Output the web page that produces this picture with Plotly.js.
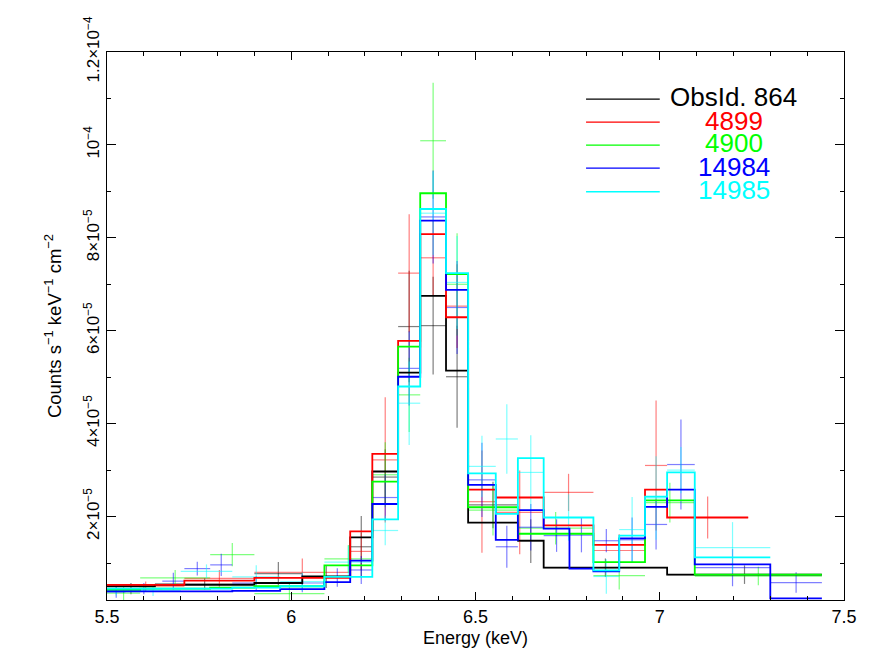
<!DOCTYPE html>
<html>
<head>
<meta charset="utf-8">
<script src="https://cdn.plot.ly/plotly-3.0.1.min.js"></script>
<style>html,body{margin:0;padding:0;background:#fff}#chart{width:873px;height:648px}</style>
</head>
<body>
<div id="chart"></div>
<script>
// Values in units of 1e-5 counts s^-1 keV^-1 cm^-2
const SCALE = 1e-5;

// ObsId 864 (black)
const edges864 = [5.50, 5.63, 5.90, 6.03, 6.16, 6.22, 6.29, 6.35, 6.42, 6.48, 6.615, 6.685, 7.02, 7.44];
const model864 = [0.50, 0.53, 0.57, 0.71, 1.55, 2.97, 5.10, 6.75, 5.14, 1.87, 1.48, 0.90, 0.75];
const data864  = [0.45, 0.55, 0.77, 0.71, 1.35, 2.85, 6.09, 6.11, 5.01, 2.25, 1.47, 0.90, 0.75];
const err864   = [0.12, 0.12, 0.25, 0.25, 0.66, 0.60, 1.20, 1.05, 1.10, 0.50, 0.47, 0.20, 0.20];

// 4899 (red)
const edges4899 = [5.50, 5.71, 5.90, 6.16, 6.22, 6.29, 6.35, 6.42, 6.48, 6.555, 6.685, 6.82, 6.96, 7.02, 7.24];
const model4899 = [0.53, 0.62, 0.68, 1.68, 3.35, 5.78, 8.08, 6.29, 2.58, 2.41, 1.81, 1.39, 2.58, 1.98];
const data4899  = [0.50, 0.67, 0.80, 1.25, 3.22, 7.24, 7.57, 6.53, 2.32, 2.09, 2.52, 1.27, 3.10, 1.98];
const err4899   = [0.10, 0.18, 0.30, 0.40, 1.35, 1.27, 0.80, 0.90, 1.10, 0.90, 0.40, 0.35, 1.40, 0.45];

// 4900 (green)
const edges4900 = [5.50, 5.59, 5.78, 5.90, 6.09, 6.22, 6.29, 6.35, 6.42, 6.48, 6.615, 6.82, 6.96, 7.095, 7.44];
const model4900 = [0.42, 0.45, 0.47, 0.50, 0.95, 2.75, 5.66, 8.96, 7.22, 2.20, 1.63, 1.02, 2.35, 0.75];
const data4900  = [0.35, 0.68, 1.18, 0.34, 1.09, 2.90, 4.62, 10.09, 7.00, 2.14, 1.75, 0.73, 2.30, 0.72];
const err4900   = [0.15, 0.17, 0.25, 0.22, 0.30, 0.70, 0.80, 1.25, 1.10, 0.55, 0.35, 0.30, 0.43, 0.20];

// 14984 (blue)
const edges14984 = [5.50, 5.55, 5.65, 5.71, 5.78, 5.84, 5.97, 6.09, 6.16, 6.22, 6.29, 6.35, 6.42, 6.48, 6.555, 6.615, 6.685, 6.755, 6.82, 6.89, 6.96, 7.02, 7.095, 7.30, 7.44];
const model14984 = [0.39, 0.39, 0.39, 0.39, 0.39, 0.40, 0.44, 0.59, 1.05, 2.27, 5.01, 8.37, 6.88, 2.68, 1.50, 2.14, 1.74, 0.88, 0.82, 1.53, 2.21, 2.58, 0.97, 0.24];
const data14984  = [0.38, 0.45, 0.61, 0.88, 0.96, 0.57, 0.57, 0.69, 0.85, 2.41, 5.19, 8.45, 6.50, 2.79, 1.35, 1.77, 1.59, 1.60, 1.48, 1.50, 1.83, 3.12, 0.90, 0.58];
const err14984   = [0.13, 0.12, 0.18, 0.15, 0.24, 0.15, 0.20, 0.20, 0.30, 0.50, 0.80, 1.00, 1.00, 0.80, 0.45, 0.50, 0.35, 0.37, 0.25, 0.48, 0.54, 0.97, 0.40, 0.22];

// 14985 (cyan)
const edges14985 = [5.50, 5.55, 5.70, 5.84, 5.97, 6.09, 6.22, 6.29, 6.35, 6.42, 6.48, 6.555, 6.615, 6.685, 6.82, 6.89, 6.96, 7.02, 7.095, 7.30];
const model14985 = [0.45, 0.45, 0.45, 0.47, 0.50, 0.70, 1.94, 4.80, 8.62, 7.24, 2.93, 2.06, 3.26, 1.98, 0.84, 1.59, 2.43, 2.95, 1.12];
const data14985  = [0.40, 0.41, 0.82, 0.70, 0.60, 1.02, 1.70, 4.44, 8.53, 7.04, 3.08, 3.67, 2.95, 1.98, 0.71, 1.72, 2.40, 3.00, 1.33];
const err14985   = [0.10, 0.12, 0.15, 0.25, 0.20, 0.35, 0.32, 0.90, 0.90, 1.00, 0.66, 0.75, 0.80, 0.50, 0.37, 0.70, 0.90, 0.50, 0.55];

const legendLabels = ["ObsId. 864", "4899", "4900", "14984", "14985"];
const xTickLabels = ["5.5", "6", "6.5", "7", "7.5"];
const yTickVals = [2e-5, 4e-5, 6e-5, 8e-5, 1e-4, 1.2e-4];
const yTickText = ["2×10<sup>−5</sup>", "4×10<sup>−5</sup>", "6×10<sup>−5</sup>", "8×10<sup>−5</sup>", "10<sup>−4</sup>", "1.2×10<sup>−4</sup>"];

const sets = [
  {edges: edges864, model: model864, data: data864, err: err864, color: [0,0,0]},
  {edges: edges4899, model: model4899, data: data4899, err: err4899, color: [255,0,0]},
  {edges: edges4900, model: model4900, data: data4900, err: err4900, color: [0,255,0]},
  {edges: edges14984, model: model14984, data: data14984, err: err14984, color: [0,0,255]},
  {edges: edges14985, model: model14985, data: data14985, err: err14985, color: [0,255,255]}
];

function rgba(c, a) { return 'rgba(' + c[0] + ',' + c[1] + ',' + c[2] + ',' + a + ')'; }

const traces = [];
sets.forEach(s => {
  const centers = [], half = [];
  for (let i = 0; i < s.data.length; i++) {
    centers.push((s.edges[i] + s.edges[i+1]) / 2);
    half.push((s.edges[i+1] - s.edges[i]) / 2);
  }
  traces.push({
    x: centers, y: s.data.map(v => v * SCALE), type: 'scatter', mode: 'markers',
    marker: {size: 1, color: 'rgba(0,0,0,0)'},
    error_x: {type: 'data', array: half, color: rgba(s.color, 0.5), thickness: 1.2, width: 0},
    error_y: {type: 'data', array: s.err.map(v => v * SCALE), color: rgba(s.color, 0.5), thickness: 1.2, width: 0},
    hoverinfo: 'skip', showlegend: false
  });
});
sets.forEach(s => {
  traces.push({
    x: s.edges.slice(), y: s.model.concat([s.model[s.model.length - 1]]).map(v => v * SCALE),
    type: 'scatter', mode: 'lines', line: {shape: 'hv', color: rgba(s.color, 1), width: 1.8},
    hoverinfo: 'skip', showlegend: false
  });
});

const shapes = [], annotations = [];
const legY = [0.914, 0.872, 0.830, 0.788, 0.745];
const txtY = [0.918, 0.8745, 0.834, 0.790, 0.748];
sets.forEach((s, i) => {
  shapes.push({type: 'line', xref: 'paper', yref: 'paper', x0: 0.650, x1: 0.750, y0: legY[i], y1: legY[i],
    line: {color: rgba(s.color, 1), width: 1.3}});
  annotations.push({xref: 'paper', yref: 'paper', x: 0.8505, y: txtY[i], xanchor: 'center', yanchor: 'middle',
    text: legendLabels[i], showarrow: false,
    font: {family: 'Liberation Sans, Arial, sans-serif', size: 26, color: rgba(s.color, 1)}});
});

const font = {family: 'Liberation Sans, Arial, sans-serif', size: 17, color: '#000'};
const layout = {
  width: 873, height: 648,
  margin: {l: 107, r: 29, t: 52, b: 48, pad: 0},
  paper_bgcolor: '#fff', plot_bgcolor: '#fff',
  font: font,
  showlegend: false,
  xaxis: {
    range: [5.5, 7.5], tickmode: 'array', tickvals: [5.5, 6, 6.5, 7, 7.5], ticktext: xTickLabels,
    ticks: 'inside', ticklen: 8, tickwidth: 1, tickcolor: '#000',
    minor: {tickmode: 'linear', tick0: 5.5, dtick: 0.1, ticks: 'inside', ticklen: 4, tickwidth: 1, tickcolor: '#000'},
    showline: true, linecolor: '#000', linewidth: 1, mirror: 'allticks',
    showgrid: false, zeroline: false,
    tickfont: {family: font.family, size: 18},
    title: {text: 'Energy (keV)', font: {family: font.family, size: 18}, standoff: 6},
    automargin: false
  },
  yaxis: {
    range: [2.04e-6, 1.2e-4], tickmode: 'array', tickvals: yTickVals, ticktext: yTickText,
    tickangle: -90,
    ticks: 'inside', ticklen: 9, tickwidth: 1, tickcolor: '#000',
    minor: {tickmode: 'linear', tick0: 0, dtick: 1e-5, ticks: 'inside', ticklen: 4, tickwidth: 1, tickcolor: '#000'},
    showline: true, linecolor: '#000', linewidth: 1, mirror: 'allticks',
    showgrid: false, zeroline: false,
    tickfont: {family: font.family, size: 17},
    title: {text: 'Counts s<sup>−1</sup> keV<sup>−1</sup> cm<sup>−2</sup>', font: {family: font.family, size: 18.5}, standoff: 14},
    automargin: false
  },
  shapes: shapes,
  annotations: annotations
};

Plotly.newPlot('chart', traces, layout, {displayModeBar: false, staticPlot: true});
</script>
</body>
</html>
